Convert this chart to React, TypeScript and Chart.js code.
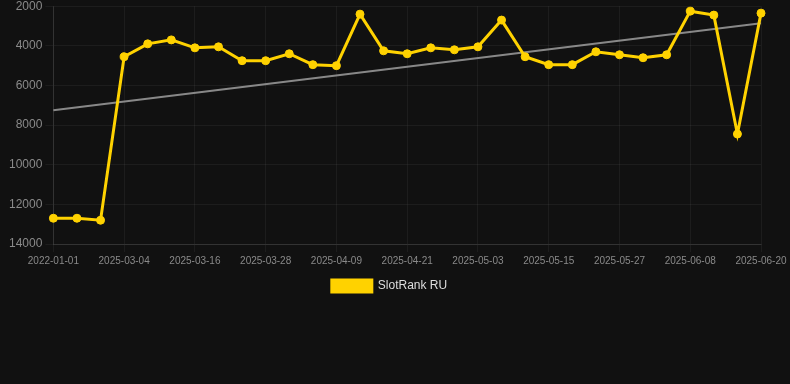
import React, { useEffect, useRef } from "react";
import { Chart, registerables } from "chart.js";

Chart.register(...registerables);

const labels: string[] = [
  "2022-01-01", "2025-02-24", "2025-02-28", "2025-03-04", "2025-03-08", "2025-03-12",
  "2025-03-16", "2025-03-20", "2025-03-24", "2025-03-28", "2025-04-01", "2025-04-05",
  "2025-04-09", "2025-04-13", "2025-04-17", "2025-04-21", "2025-04-25", "2025-04-29",
  "2025-05-03", "2025-05-07", "2025-05-11", "2025-05-15", "2025-05-19", "2025-05-23",
  "2025-05-27", "2025-05-31", "2025-06-04", "2025-06-08", "2025-06-12", "2025-06-16",
  "2025-06-20",
];

const rankValues: number[] = [
  12700, 12700, 12800, 4550, 3900, 3700, 4100, 4050, 4750, 4750, 4400, 4950,
  5000, 2400, 4250, 4400, 4100, 4200, 4050, 2700, 4550, 4950, 4950, 4300,
  4450, 4600, 4450, 2250, 2450, 8450, 2350,
];

const trendStart = 7250;
const trendEnd = 2860;
const trendValues: (number | null)[] = labels.map((_, i) =>
  i === 0 ? trendStart : i === labels.length - 1 ? trendEnd : null
);

const yTicks: number[] = [2000, 4000, 6000, 8000, 10000, 12000, 14000];

const legendShift = {
  id: "legendShift",
  afterLayout(chart: any) {
    const lg = chart.legend;
    if (lg) {
      lg.left += 6;
      lg.right += 6;
    }
  },
};

export default function App() {
  const ref = useRef<HTMLCanvasElement | null>(null);
  useEffect(() => {
    if (!ref.current) return;
    const font = "'Liberation Sans', Arial, Helvetica, sans-serif";
    const chart = new Chart(ref.current, {
      type: "line",
      data: {
        labels,
        datasets: [
          {
            label: "SlotRank RU",
            data: rankValues,
            borderColor: "#FFD200",
            backgroundColor: "#FFD200",
            borderWidth: 3,
            pointRadius: 4,
            pointBorderWidth: 1,
            pointBackgroundColor: "#FFD200",
            pointBorderColor: "#FFD200",
            tension: 0,
          },
          {
            label: "trend",
            data: trendValues,
            borderColor: "rgba(150,150,150,0.9)",
            backgroundColor: "rgba(150,150,150,0.9)",
            borderWidth: 2,
            pointRadius: 0,
            spanGaps: true,
          },
        ],
      },
      plugins: [legendShift],
      options: {
        animation: false,
        responsive: true,
        maintainAspectRatio: false,
        layout: { padding: { left: 6, right: 29, top: 0, bottom: 0 } },
        plugins: {
          legend: {
            position: "bottom",
            labels: {
              color: "#dddddd",
              font: { family: font, size: 12 },
              boxWidth: 40,
              boxHeight: 12,
              filter: (item) => item.text !== "trend",
            },
          },
          tooltip: { enabled: false },
        },
        scales: {
          x: {
            ticks: {
              autoSkip: false,
              maxRotation: 0,
              color: "#8a8a8a",
              font: { family: font, size: 10 },
              callback: (_v, i) => (i % 3 === 0 ? labels[i] : null),
            },
            grid: { color: "rgba(255,255,255,0.05)" },
            border: { color: "rgba(255,255,255,0.1)" },
          },
          y: {
            reverse: true,
            min: 2000,
            max: 14000,
            afterBuildTicks: (axis) => {
              axis.ticks = yTicks.map((v) => ({ value: v }));
            },
            ticks: {
              color: "#8a8a8a",
              font: { family: font, size: 12 },
              callback: (v) => String(v),
            },
            grid: { color: "rgba(255,255,255,0.05)" },
            border: { color: "rgba(255,255,255,0.1)" },
          },
        },
      },
    });
    return () => chart.destroy();
  }, []);
  return (
    <div style={{ position: "absolute", left: 0, top: 0, width: 790, height: 384, background: "#111111", overflow: "hidden" }}>
      <div style={{ position: "absolute", left: 0, top: -4, width: 790, height: 306 }}>
        <canvas ref={ref} />
      </div>
    </div>
  );
}
